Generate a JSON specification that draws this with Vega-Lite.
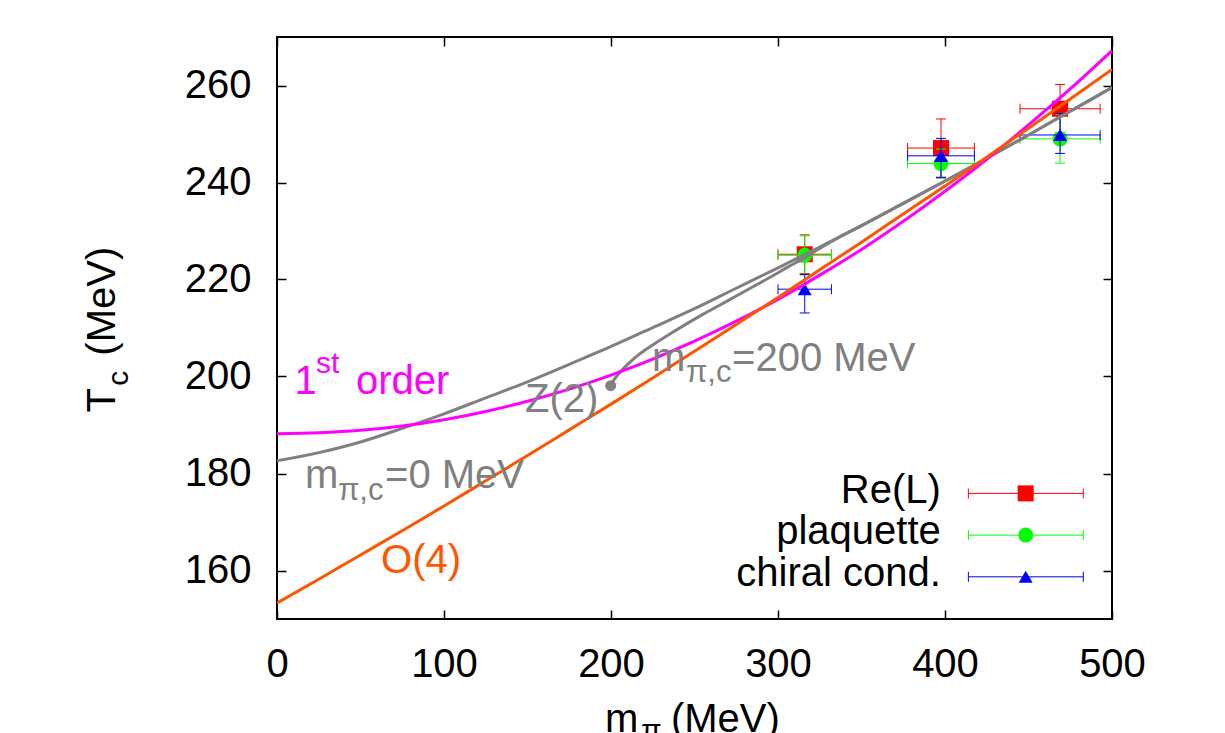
{
  "$schema": "https://vega.github.io/schema/vega-lite/v6.json",
  "width": 835,
  "height": 582,
  "autosize": {"type": "none"},
  "padding": {"left": 277, "top": 37, "right": 113, "bottom": 114},
  "background": "white",
  "data": {"values": [{}]},
  "datasets": {
    "curves": [
      {"curve": "mpi0", "m": 0, "T": 182.6}, {"curve": "mpi0", "m": 25, "T": 184.3}, {"curve": "mpi0", "m": 50, "T": 186.5}, {"curve": "mpi0", "m": 75, "T": 189.3}, {"curve": "mpi0", "m": 100, "T": 192.3}, {"curve": "mpi0", "m": 125, "T": 195.6}, {"curve": "mpi0", "m": 150, "T": 198.9}, {"curve": "mpi0", "m": 175, "T": 202.5}, {"curve": "mpi0", "m": 200, "T": 206.2}, {"curve": "mpi0", "m": 225, "T": 210.1}, {"curve": "mpi0", "m": 250, "T": 214.0}, {"curve": "mpi0", "m": 275, "T": 218.2}, {"curve": "mpi0", "m": 300, "T": 222.4}, {"curve": "mpi0", "m": 325, "T": 226.7}, {"curve": "mpi0", "m": 350, "T": 231.1}, {"curve": "mpi0", "m": 375, "T": 235.7}, {"curve": "mpi0", "m": 400, "T": 240.3}, {"curve": "mpi0", "m": 425, "T": 245.0}, {"curve": "mpi0", "m": 450, "T": 249.8}, {"curve": "mpi0", "m": 475, "T": 254.7}, {"curve": "mpi0", "m": 500, "T": 259.6},
      {"curve": "mpi200", "m": 199.8, "T": 198.1}, {"curve": "mpi200", "m": 201, "T": 198.9}, {"curve": "mpi200", "m": 203, "T": 199.9}, {"curve": "mpi200", "m": 206, "T": 201.1}, {"curve": "mpi200", "m": 210, "T": 202.5}, {"curve": "mpi200", "m": 217, "T": 204.6}, {"curve": "mpi200", "m": 225, "T": 206.5}, {"curve": "mpi200", "m": 235, "T": 208.7}, {"curve": "mpi200", "m": 245, "T": 210.8}, {"curve": "mpi200", "m": 255, "T": 212.8}, {"curve": "mpi200", "m": 265, "T": 214.7}, {"curve": "mpi200", "m": 275, "T": 216.6}, {"curve": "mpi200", "m": 285, "T": 218.5}, {"curve": "mpi200", "m": 295, "T": 220.4}, {"curve": "mpi200", "m": 305, "T": 222.4}, {"curve": "mpi200", "m": 315, "T": 224.3}, {"curve": "mpi200", "m": 325, "T": 226.4}, {"curve": "mpi200", "m": 335, "T": 228.4}, {"curve": "mpi200", "m": 350, "T": 231.1}, {"curve": "mpi200", "m": 375, "T": 235.7}, {"curve": "mpi200", "m": 400, "T": 240.3}, {"curve": "mpi200", "m": 425, "T": 245.0}, {"curve": "mpi200", "m": 450, "T": 249.8}, {"curve": "mpi200", "m": 475, "T": 254.7}, {"curve": "mpi200", "m": 500, "T": 259.6},
      {"curve": "first", "m": 0, "T": 188.2}, {"curve": "first", "m": 25, "T": 188.4}, {"curve": "first", "m": 50, "T": 188.9}, {"curve": "first", "m": 75, "T": 189.8}, {"curve": "first", "m": 100, "T": 191.1}, {"curve": "first", "m": 125, "T": 192.8}, {"curve": "first", "m": 150, "T": 194.9}, {"curve": "first", "m": 175, "T": 197.4}, {"curve": "first", "m": 200, "T": 200.3}, {"curve": "first", "m": 225, "T": 203.6}, {"curve": "first", "m": 250, "T": 207.3}, {"curve": "first", "m": 275, "T": 211.4}, {"curve": "first", "m": 300, "T": 215.9}, {"curve": "first", "m": 325, "T": 220.9}, {"curve": "first", "m": 350, "T": 226.2}, {"curve": "first", "m": 375, "T": 232.0}, {"curve": "first", "m": 400, "T": 238.2}, {"curve": "first", "m": 425, "T": 244.8}, {"curve": "first", "m": 450, "T": 251.9}, {"curve": "first", "m": 475, "T": 259.3}, {"curve": "first", "m": 500, "T": 267.2},
      {"curve": "O4", "m": 0, "T": 153.3}, {"curve": "O4", "m": 25, "T": 158.2}, {"curve": "O4", "m": 50, "T": 163.2}, {"curve": "O4", "m": 75, "T": 168.2}, {"curve": "O4", "m": 100, "T": 173.3}, {"curve": "O4", "m": 125, "T": 178.5}, {"curve": "O4", "m": 150, "T": 183.7}, {"curve": "O4", "m": 175, "T": 189.0}, {"curve": "O4", "m": 200, "T": 194.3}, {"curve": "O4", "m": 225, "T": 199.7}, {"curve": "O4", "m": 250, "T": 205.2}, {"curve": "O4", "m": 275, "T": 210.7}, {"curve": "O4", "m": 300, "T": 216.3}, {"curve": "O4", "m": 325, "T": 222.0}, {"curve": "O4", "m": 350, "T": 227.7}, {"curve": "O4", "m": 375, "T": 233.5}, {"curve": "O4", "m": 400, "T": 239.3}, {"curve": "O4", "m": 425, "T": 245.2}, {"curve": "O4", "m": 450, "T": 251.2}, {"curve": "O4", "m": 475, "T": 257.2}, {"curve": "O4", "m": 500, "T": 263.3}
    ],
    "points": [
      {"series": "Re(L)", "m": 316, "T": 225.2, "mlo": 300, "mhi": 332, "Tlo": 221.2, "Thi": 229.2},
      {"series": "Re(L)", "m": 397.6, "T": 247.1, "mlo": 377.6, "mhi": 417.6, "Tlo": 241.1, "Thi": 253.1},
      {"series": "Re(L)", "m": 468.9, "T": 255.2, "mlo": 444.9, "mhi": 492.9, "Tlo": 250.2, "Thi": 260.2},
      {"series": "plaquette", "m": 316, "T": 225, "mlo": 300, "mhi": 332, "Tlo": 221, "Thi": 229},
      {"series": "plaquette", "m": 397.6, "T": 243.9, "mlo": 377.6, "mhi": 417.6, "Tlo": 240.9, "Thi": 246.9},
      {"series": "plaquette", "m": 468.9, "T": 249, "mlo": 444.9, "mhi": 492.9, "Tlo": 244, "Thi": 254},
      {"series": "chiral cond.", "m": 316, "T": 218, "mlo": 300, "mhi": 332, "Tlo": 213.1, "Thi": 221},
      {"series": "chiral cond.", "m": 397.6, "T": 245.5, "mlo": 377.6, "mhi": 417.6, "Tlo": 241, "Thi": 249.1},
      {"series": "chiral cond.", "m": 468.9, "T": 249.8, "mlo": 444.9, "mhi": 492.9, "Tlo": 246, "Thi": 254.2}
    ]
  },
  "config": {
    "view": {"stroke": "#000000", "strokeWidth": 2},
    "axis": {"domain": false, "grid": false, "labelFont": "Liberation Sans", "labelFontSize": 40, "labelColor": "#000000", "tickColor": "#000000", "tickWidth": 1.5, "tickSize": -9, "labelFlush": false, "labelOverlap": false, "labelBound": false},
    "point": {"opacity": 1},
    "tick": {"opacity": 1},
    "text": {"font": "Liberation Sans"}
  },
  "resolve": {"axis": {"x": "independent", "y": "independent"}},
  "layer": [
    {
      "layer": [
        {
          "data": {"name": "points"},
          "transform": [{"filter": "datum.series === 'Re(L)'"}],
          "layer": [
            {"mark": {"type": "rule", "color": "#ff0000", "strokeWidth": 1},
             "encoding": {"x": {"field": "mlo", "type": "quantitative", "scale": {"domain": [0, 500], "nice": false, "zero": false}, "axis": {"title": null, "values": [0, 100, 200, 300, 400, 500], "labelPadding": 34}},
                          "x2": {"field": "mhi"},
                          "y": {"field": "T", "type": "quantitative", "scale": {"domain": [150, 270], "nice": false, "zero": false}, "axis": {"title": null, "values": [160, 180, 200, 220, 240, 260], "labelPadding": 35}}}},
            {"mark": {"type": "rule", "color": "#ff0000", "strokeWidth": 1},
             "encoding": {"x": {"field": "m", "type": "quantitative"}, "y": {"field": "Tlo", "type": "quantitative"}, "y2": {"field": "Thi"}}},
            {"transform": [{"fold": ["mlo", "mhi"], "as": ["k", "mc"]}],
             "mark": {"type": "tick", "orient": "vertical", "color": "#ff0000", "size": 10, "thickness": 1},
             "encoding": {"x": {"field": "mc", "type": "quantitative"}, "y": {"field": "T", "type": "quantitative"}}},
            {"transform": [{"fold": ["Tlo", "Thi"], "as": ["k", "Tc"]}],
             "mark": {"type": "tick", "orient": "horizontal", "color": "#ff0000", "size": 10, "thickness": 1},
             "encoding": {"x": {"field": "m", "type": "quantitative"}, "y": {"field": "Tc", "type": "quantitative"}}},
            {"mark": {"type": "point", "shape": "square", "filled": true, "size": 256, "color": "#ff0000", "strokeWidth": 0},
             "encoding": {"x": {"field": "m", "type": "quantitative"}, "y": {"field": "T", "type": "quantitative"}}}
          ]
        },
        {
          "data": {"name": "points"},
          "transform": [{"filter": "datum.series === 'plaquette'"}],
          "layer": [
            {"mark": {"type": "rule", "color": "#00ff00", "strokeWidth": 1},
             "encoding": {"x": {"field": "mlo", "type": "quantitative"}, "x2": {"field": "mhi"}, "y": {"field": "T", "type": "quantitative"}}},
            {"mark": {"type": "rule", "color": "#00ff00", "strokeWidth": 1},
             "encoding": {"x": {"field": "m", "type": "quantitative"}, "y": {"field": "Tlo", "type": "quantitative"}, "y2": {"field": "Thi"}}},
            {"transform": [{"fold": ["mlo", "mhi"], "as": ["k", "mc"]}],
             "mark": {"type": "tick", "orient": "vertical", "color": "#00ff00", "size": 10, "thickness": 1},
             "encoding": {"x": {"field": "mc", "type": "quantitative"}, "y": {"field": "T", "type": "quantitative"}}},
            {"transform": [{"fold": ["Tlo", "Thi"], "as": ["k", "Tc"]}],
             "mark": {"type": "tick", "orient": "horizontal", "color": "#00ff00", "size": 10, "thickness": 1},
             "encoding": {"x": {"field": "m", "type": "quantitative"}, "y": {"field": "Tc", "type": "quantitative"}}},
            {"mark": {"type": "point", "shape": "circle", "filled": true, "size": 225, "color": "#00ff00", "strokeWidth": 0},
             "encoding": {"x": {"field": "m", "type": "quantitative"}, "y": {"field": "T", "type": "quantitative"}}}
          ]
        },
        {
          "data": {"name": "points"},
          "transform": [{"filter": "datum.series === 'chiral cond.'"}],
          "layer": [
            {"mark": {"type": "rule", "color": "#0000ff", "strokeWidth": 1},
             "encoding": {"x": {"field": "mlo", "type": "quantitative"}, "x2": {"field": "mhi"}, "y": {"field": "T", "type": "quantitative"}}},
            {"mark": {"type": "rule", "color": "#0000ff", "strokeWidth": 1},
             "encoding": {"x": {"field": "m", "type": "quantitative"}, "y": {"field": "Tlo", "type": "quantitative"}, "y2": {"field": "Thi"}}},
            {"transform": [{"fold": ["mlo", "mhi"], "as": ["k", "mc"]}],
             "mark": {"type": "tick", "orient": "vertical", "color": "#0000ff", "size": 10, "thickness": 1},
             "encoding": {"x": {"field": "mc", "type": "quantitative"}, "y": {"field": "T", "type": "quantitative"}}},
            {"transform": [{"fold": ["Tlo", "Thi"], "as": ["k", "Tc"]}],
             "mark": {"type": "tick", "orient": "horizontal", "color": "#0000ff", "size": 10, "thickness": 1},
             "encoding": {"x": {"field": "m", "type": "quantitative"}, "y": {"field": "Tc", "type": "quantitative"}}},
            {"mark": {"type": "point", "shape": "triangle-up", "filled": true, "size": 196, "color": "#0000ff", "strokeWidth": 0},
             "encoding": {"x": {"field": "m", "type": "quantitative"}, "y": {"field": "T", "type": "quantitative"}}}
          ]
        },
        {"data": {"name": "curves"}, "transform": [{"filter": "datum.curve === 'mpi0'"}],
         "mark": {"type": "line", "color": "#808080", "strokeWidth": 3, "clip": true, "interpolate": "monotone"},
         "encoding": {"x": {"field": "m", "type": "quantitative"}, "y": {"field": "T", "type": "quantitative"}}},
        {"data": {"name": "curves"}, "transform": [{"filter": "datum.curve === 'mpi200'"}],
         "mark": {"type": "line", "color": "#808080", "strokeWidth": 3, "clip": true, "interpolate": "monotone"},
         "encoding": {"x": {"field": "m", "type": "quantitative"}, "y": {"field": "T", "type": "quantitative"}}},
        {"data": {"name": "curves"}, "transform": [{"filter": "datum.curve === 'first'"}],
         "mark": {"type": "line", "color": "#ff00ff", "strokeWidth": 3, "clip": true, "interpolate": "monotone"},
         "encoding": {"x": {"field": "m", "type": "quantitative"}, "y": {"field": "T", "type": "quantitative"}}},
        {"data": {"name": "curves"}, "transform": [{"filter": "datum.curve === 'O4'"}],
         "mark": {"type": "line", "color": "#ff5500", "strokeWidth": 3, "clip": true, "interpolate": "monotone"},
         "encoding": {"x": {"field": "m", "type": "quantitative"}, "y": {"field": "T", "type": "quantitative"}}},
        {"mark": {"type": "point", "shape": "circle", "filled": true, "size": 120, "color": "#808080", "strokeWidth": 0},
         "encoding": {"x": {"datum": 199.8}, "y": {"datum": 198.1}}},

        {"mark": {"type": "text", "fontSize": 40, "align": "left", "baseline": "alphabetic", "color": "#ff00ff"},
         "encoding": {"x": {"datum": 10.5}, "y": {"datum": 196.3}, "text": {"value": "1"}}},
        {"mark": {"type": "text", "fontSize": 30, "align": "left", "baseline": "alphabetic", "color": "#ff00ff"},
         "encoding": {"x": {"datum": 23.4}, "y": {"datum": 200.8}, "text": {"value": "st"}}},
        {"mark": {"type": "text", "fontSize": 40, "align": "left", "baseline": "alphabetic", "color": "#ff00ff"},
         "encoding": {"x": {"datum": 47.3}, "y": {"datum": 196.3}, "text": {"value": "order"}}},

        {"mark": {"type": "text", "fontSize": 40, "align": "left", "baseline": "alphabetic", "color": "#808080"},
         "encoding": {"x": {"datum": 16.8}, "y": {"datum": 177.1}, "text": {"value": "m"}}},
        {"mark": {"type": "text", "fontSize": 31, "align": "left", "baseline": "alphabetic", "color": "#808080"},
         "encoding": {"x": {"datum": 36.5}, "y": {"datum": 174.6}, "text": {"value": "π,c"}}},
        {"mark": {"type": "text", "fontSize": 40, "align": "left", "baseline": "alphabetic", "color": "#808080"},
         "encoding": {"x": {"datum": 64.7}, "y": {"datum": 177.1}, "text": {"value": "=0 MeV"}}},

        {"mark": {"type": "text", "fontSize": 40, "align": "left", "baseline": "alphabetic", "color": "#808080"},
         "encoding": {"x": {"datum": 148.5}, "y": {"datum": 192.6}, "text": {"value": "Z(2)"}}},

        {"mark": {"type": "text", "fontSize": 40, "align": "left", "baseline": "alphabetic", "color": "#808080"},
         "encoding": {"x": {"datum": 224.6}, "y": {"datum": 201.2}, "text": {"value": "m"}}},
        {"mark": {"type": "text", "fontSize": 31, "align": "left", "baseline": "alphabetic", "color": "#808080"},
         "encoding": {"x": {"datum": 244.9}, "y": {"datum": 198.8}, "text": {"value": "π,c"}}},
        {"mark": {"type": "text", "fontSize": 40, "align": "left", "baseline": "alphabetic", "color": "#808080"},
         "encoding": {"x": {"datum": 272.5}, "y": {"datum": 201.2}, "text": {"value": "=200 MeV"}}},

        {"mark": {"type": "text", "fontSize": 40, "align": "left", "baseline": "alphabetic", "color": "#ff5500"},
         "encoding": {"x": {"datum": 62.3}, "y": {"datum": 159.4}, "text": {"value": "O(4)"}}},

        {"mark": {"type": "text", "fontSize": 40, "align": "right", "baseline": "alphabetic", "color": "#000000"},
         "encoding": {"x": {"datum": 397.5}, "y": {"datum": 173.9}, "text": {"value": "Re(L)"}}},
        {"mark": {"type": "rule", "color": "#ff0000", "strokeWidth": 1},
         "encoding": {"x": {"datum": 414.0}, "x2": {"datum": 482.8}, "y": {"datum": 175.9}}},
        {"mark": {"type": "tick", "orient": "vertical", "color": "#ff0000", "size": 10, "thickness": 1},
         "encoding": {"x": {"datum": 414.0}, "y": {"datum": 175.9}}},
        {"mark": {"type": "tick", "orient": "vertical", "color": "#ff0000", "size": 10, "thickness": 1},
         "encoding": {"x": {"datum": 482.8}, "y": {"datum": 175.9}}},
        {"mark": {"type": "point", "shape": "square", "filled": true, "size": 256, "color": "#ff0000", "strokeWidth": 0},
         "encoding": {"x": {"datum": 448.3}, "y": {"datum": 175.9}}},

        {"mark": {"type": "text", "fontSize": 40, "align": "right", "baseline": "alphabetic", "color": "#000000"},
         "encoding": {"x": {"datum": 397.5}, "y": {"datum": 165.4}, "text": {"value": "plaquette"}}},
        {"mark": {"type": "rule", "color": "#00ff00", "strokeWidth": 1},
         "encoding": {"x": {"datum": 414.0}, "x2": {"datum": 482.8}, "y": {"datum": 167.3}}},
        {"mark": {"type": "tick", "orient": "vertical", "color": "#00ff00", "size": 10, "thickness": 1},
         "encoding": {"x": {"datum": 414.0}, "y": {"datum": 167.3}}},
        {"mark": {"type": "tick", "orient": "vertical", "color": "#00ff00", "size": 10, "thickness": 1},
         "encoding": {"x": {"datum": 482.8}, "y": {"datum": 167.3}}},
        {"mark": {"type": "point", "shape": "circle", "filled": true, "size": 225, "color": "#00ff00", "strokeWidth": 0},
         "encoding": {"x": {"datum": 448.3}, "y": {"datum": 167.3}}},

        {"mark": {"type": "text", "fontSize": 40, "align": "right", "baseline": "alphabetic", "color": "#000000"},
         "encoding": {"x": {"datum": 397.5}, "y": {"datum": 156.8}, "text": {"value": "chiral cond."}}},
        {"mark": {"type": "rule", "color": "#0000ff", "strokeWidth": 1},
         "encoding": {"x": {"datum": 414.0}, "x2": {"datum": 482.8}, "y": {"datum": 158.7}}},
        {"mark": {"type": "tick", "orient": "vertical", "color": "#0000ff", "size": 10, "thickness": 1},
         "encoding": {"x": {"datum": 414.0}, "y": {"datum": 158.7}}},
        {"mark": {"type": "tick", "orient": "vertical", "color": "#0000ff", "size": 10, "thickness": 1},
         "encoding": {"x": {"datum": 482.8}, "y": {"datum": 158.7}}},
        {"mark": {"type": "point", "shape": "triangle-up", "filled": true, "size": 196, "color": "#0000ff", "strokeWidth": 0},
         "encoding": {"x": {"datum": 448.3}, "y": {"datum": 158.7}}},

        {"mark": {"type": "text", "fontSize": 40, "align": "left", "baseline": "alphabetic", "angle": 270, "color": "#000000"},
         "encoding": {"x": {"datum": -97.0}, "y": {"datum": 192.6}, "text": {"value": "T"}}},
        {"mark": {"type": "text", "fontSize": 30, "align": "left", "baseline": "alphabetic", "angle": 270, "color": "#000000"},
         "encoding": {"x": {"datum": -89.2}, "y": {"datum": 198.1}, "text": {"value": "c"}}},
        {"mark": {"type": "text", "fontSize": 40, "align": "left", "baseline": "alphabetic", "angle": 270, "color": "#000000"},
         "encoding": {"x": {"datum": -97.0}, "y": {"datum": 204.3}, "text": {"value": "(MeV)"}}},

        {"mark": {"type": "text", "fontSize": 40, "align": "left", "baseline": "alphabetic", "color": "#000000"},
         "encoding": {"x": {"datum": 196.4}, "y": {"datum": 126.6}, "text": {"value": "m"}}},
        {"mark": {"type": "text", "fontSize": 30, "align": "left", "baseline": "alphabetic", "color": "#000000"},
         "encoding": {"x": {"datum": 218.0}, "y": {"datum": 124.95}, "text": {"value": "π"}}},
        {"mark": {"type": "text", "fontSize": 40, "align": "left", "baseline": "alphabetic", "color": "#000000"},
         "encoding": {"x": {"datum": 235.9}, "y": {"datum": 126.6}, "text": {"value": "(MeV)"}}}
      ]
    },
    {
      "data": {"name": "curves"},
      "mark": {"type": "point", "opacity": 0},
      "encoding": {
        "x": {"field": "m", "type": "quantitative", "scale": {"domain": [0, 500], "nice": false, "zero": false}, "axis": {"orient": "top", "title": null, "labels": false, "values": [0, 100, 200, 300, 400, 500]}},
        "y": {"field": "T", "type": "quantitative", "scale": {"domain": [150, 270], "nice": false, "zero": false}, "axis": {"orient": "right", "title": null, "labels": false, "values": [160, 180, 200, 220, 240, 260]}}
      }
    }
  ]
}
